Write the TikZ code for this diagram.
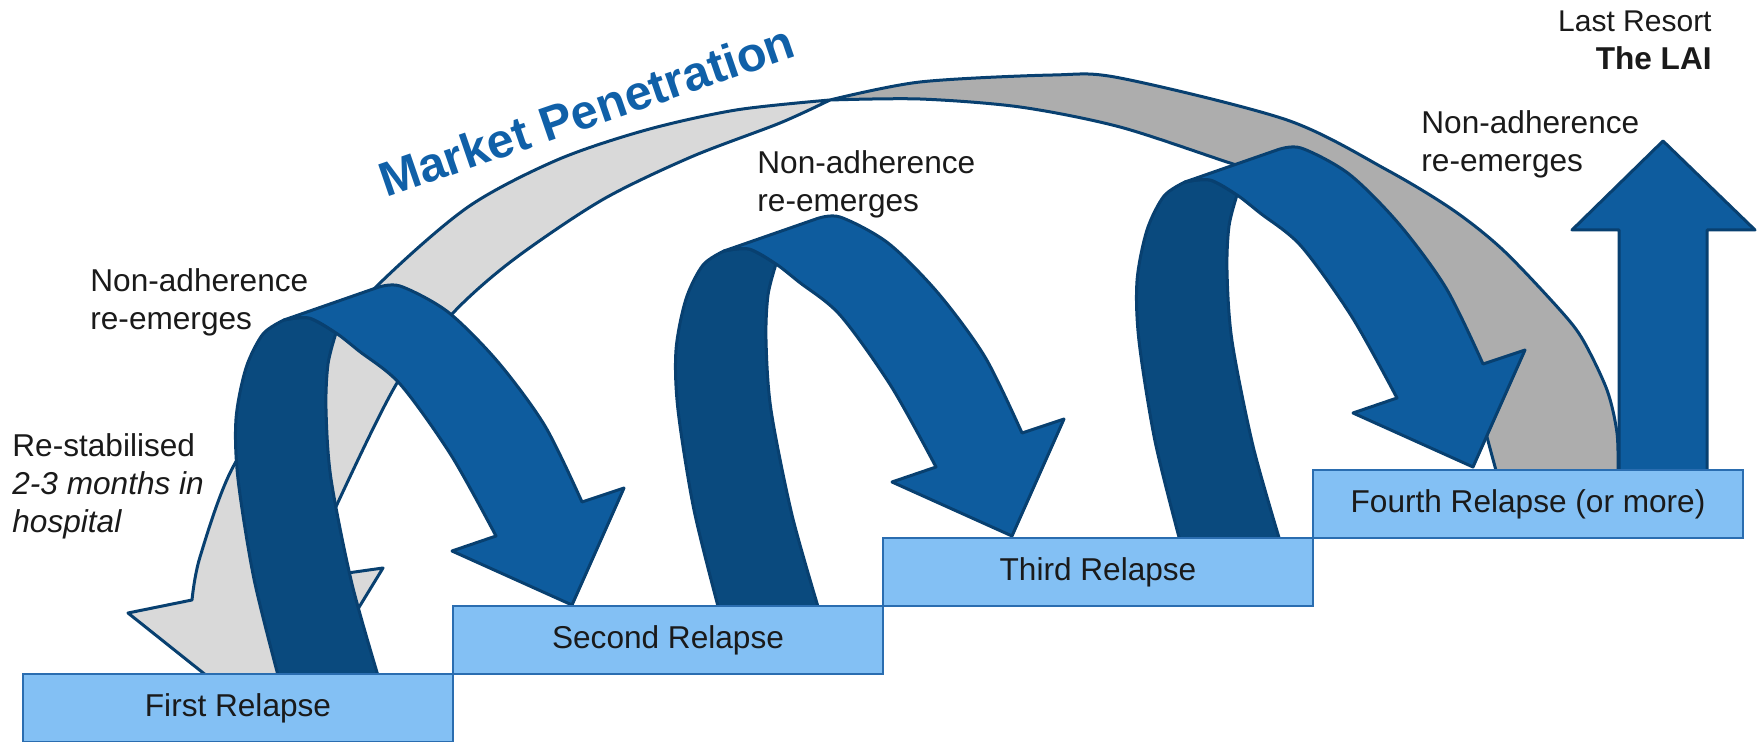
\documentclass[tikz,border=0pt]{standalone}
\usepackage{fontspec}
\setmainfont{Liberation Sans}
\usetikzlibrary{positioning}

\definecolor{boxblue}{HTML}{83C0F4}
\definecolor{boxline}{HTML}{2A6DB0}
\definecolor{frontblue}{HTML}{0E5C9E}
\definecolor{backblue}{HTML}{0A4A7E}
\definecolor{edgeblue}{HTML}{084070}
\definecolor{penblue}{HTML}{1060A8}
\definecolor{lightgrey}{HTML}{D9D9D9}
\definecolor{darkgrey}{HTML}{ADADAD}
\definecolor{textgrey}{HTML}{1A1A1A}

\begin{document}
\begin{tikzpicture}[x=0.5pt, y=-0.5pt,
	relapse/.style={draw=boxline, fill=boxblue, line width=1pt, minimum width=215pt, minimum height=34pt, inner sep=0pt, outer sep=0pt, font=\fontsize{15.8}{19}\selectfont, text=textgrey},
	backband/.style={fill=backblue, draw=edgeblue, line width=1.5pt, line join=round},
	frontband/.style={fill=frontblue, draw=edgeblue, line width=1.5pt, line join=round},
	note/.style={anchor=base west, align=left, inner sep=0pt, font=\fontsize{15.8}{19}\selectfont, text=textgrey}]

	% picture frame, coordinates in pixels from the top left
	\useasboundingbox (0,0) rectangle (1761,742);

	% the long way back: light half comes down on the first relapse
	\filldraw[fill=lightgrey, draw=edgeblue, line width=1.5pt, line join=round]
		plot[smooth] coordinates {(830,100) (736,110) (646,130) (557,160) (468,207) (380,283) (300,370) (233,467) (200,557) (192,600)}
		-- (128,613) -- (281,735) -- (383,568) -- (305,579)
		-- plot[smooth] coordinates {(305,579) (333,513) (397,383) (453,313) (513,260) (602,200) (691,157) (780,123) (830,100)} -- cycle;
	% dark half rises from the fourth relapse
	\filldraw[fill=darkgrey, draw=edgeblue, line width=1.5pt, line join=round]
		plot[smooth] coordinates {(830,100) (920,82) (1053,75) (1120,78) (1287,120) (1387,170) (1453,210) (1503,250) (1560,310) (1583,340) (1607,390) (1617,433) (1618,474)}
		-- (1497,474)
		-- plot[smooth] coordinates {(1497,474) (1487,437) (1470,370) (1430,290) (1370,225) (1300,185) (1230,163) (1120,127) (1020,107) (920,99) (830,100)} -- cycle;

	% one loop per relapse, same shape one step up each time
	\foreach \dx/\dy in {-440/69, 0/0, 461/-69} {
	\begin{scope}[shift={(\dx,\dy)}]
		% back of the loop
		\filldraw[backband] plot[smooth] coordinates {(719,610) (694,510) (678,410) (676,350) (686,299) (703,265) (724,251)}
			-- plot[smooth] coordinates {(724,251) (749,249) (776,264)}
			-- plot[smooth] coordinates {(776,264) (768,295) (766,340) (771,410) (792,515) (819,610)} -- cycle;
		% front of the loop with its head
		\filldraw[frontband] plot[smooth] coordinates {(724,251) (749,249) (776,264) (799,282) (840,315) (891,386) (936,467)}
			-- (892,482) -- (1012,536) -- (1064,419) -- (1022,433)
			-- plot[smooth] coordinates {(1022,433) (985,357) (938,293) (888,243) (840,217) (816,219)} -- cycle;
	\end{scope}
	}

	% last resort arrow
	\filldraw[frontband] (1619,474) -- (1619,230) -- (1572,230) -- (1663,141) -- (1755,230) -- (1707,230) -- (1707,474) -- cycle;

	% the stairs
	\node[relapse] (first) at (238,708) {First Relapse};
	\node[relapse, anchor=south west] (second) at (first.north east) {Second Relapse};
	\node[relapse, anchor=south west] (third) at (second.north east) {Third Relapse};
	\node[relapse, anchor=south west] (fourth) at (third.north east) {Fourth Relapse (or more)};

	% labels (base is the last line)
	\node[note] (adhere1) at (90,330) {Non-adherence\\re-emerges};
	\node[note] (adhere2) at (757,212) {Non-adherence\\re-emerges};
	\node[note] (adhere3) at (1421,172) {Non-adherence\\re-emerges};
	\node[note] (stable) at (12,533) {Re-stabilised\\\textit{2-3 months in}\\\textit{hospital}};
	\node[note, align=right, anchor=base east] (resort) at (1712,70) {{\fontsize{15}{19}\selectfont Last Resort}\\\textbf{The LAI}};
	\node[anchor=base, rotate=19, inner sep=0pt, font=\fontsize{24.2}{29}\selectfont\bfseries, text=penblue] (market) at (592,127) {Market Penetration};

\end{tikzpicture}
\end{document}
